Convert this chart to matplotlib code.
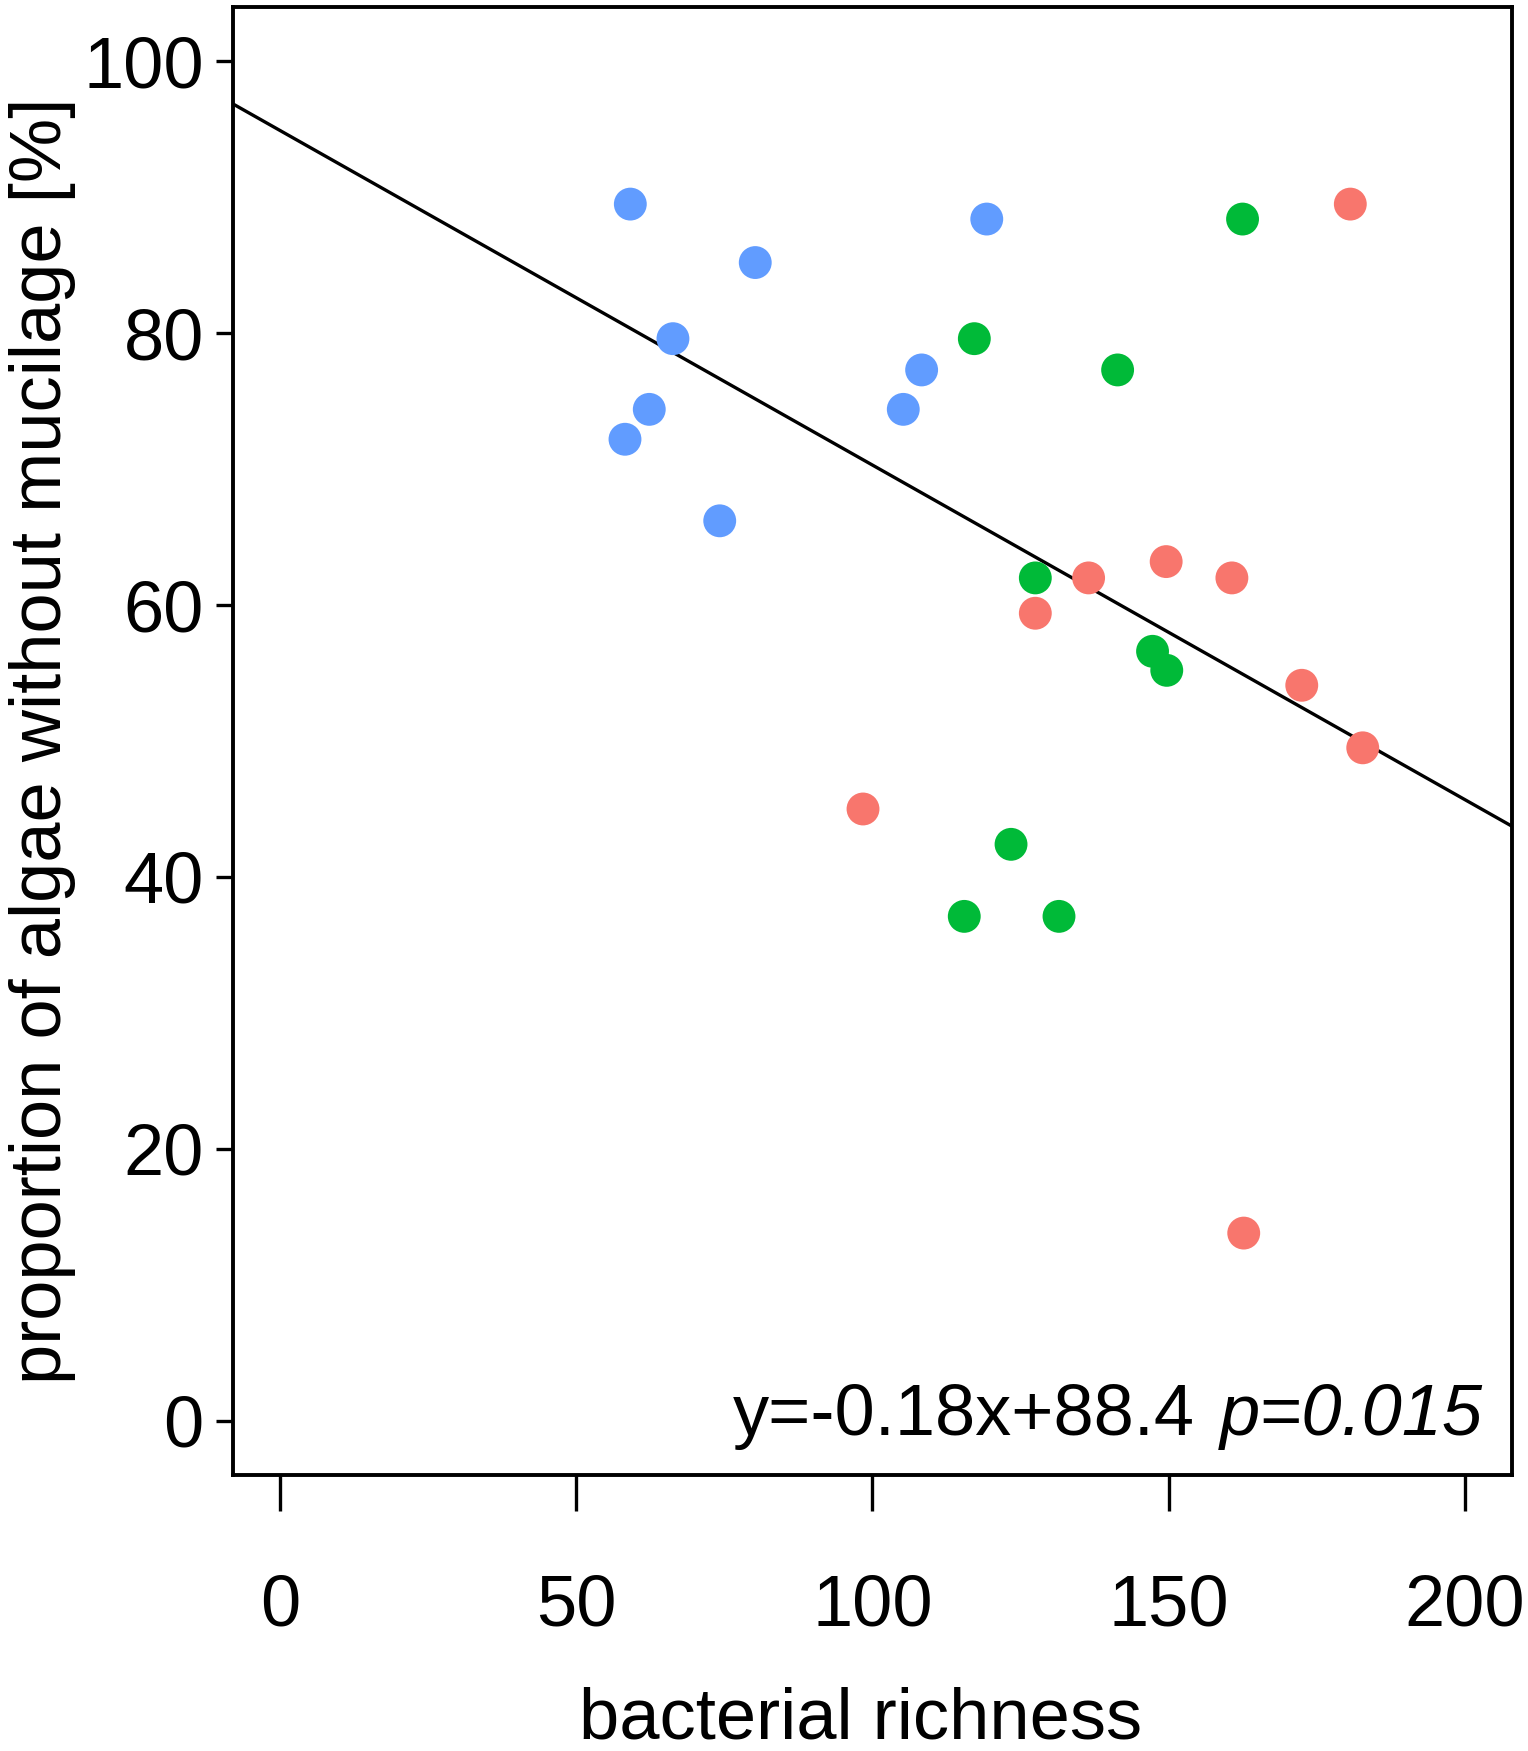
import numpy as np
from matplotlib import pyplot as plt

#======================================================================================================
# Data
blue_x  = [59.1, 80.2, 66.3, 62.3, 58.2, 74.2, 119.3, 108.3, 105.2]
blue_y  = [89.5, 85.2, 79.6, 74.4, 72.2, 66.2, 88.4, 77.3, 74.4]

green_x = [117.2, 162.5, 141.4, 127.5, 147.3, 149.7, 123.4, 115.5, 131.5]
green_y = [79.6, 88.4, 77.3, 62.0, 56.6, 55.2, 42.4, 37.1, 37.1]

red_x   = [180.7, 136.5, 127.5, 149.6, 160.7, 172.5, 182.8, 98.4, 162.7]
red_y   = [89.5, 62.0, 59.4, 63.2, 62.0, 54.1, 49.5, 45.0, 13.8]

# fitted line as drawn
line_slope     = -0.246
line_intercept = 94.9

x_ticks = [0, 50, 100, 150, 200]
y_ticks = [0, 20, 40, 60, 80, 100]

eq_text = "y=-0.18x+88.4"
p_text  = "p=0.015"

#======================================================================================================

def main():
    plt.rcParams['font.family'] = ['Liberation Sans', 'DejaVu Sans']
    fs = 52

    fig = plt.figure(figsize=[15.28, 17.51], dpi=100)
    ax = fig.add_axes([0.1525, 0.1576, 0.837, 0.8384])

    x_line = np.array([-8.32, 207.8])
    ax.plot(x_line, line_intercept + line_slope * x_line, color='black', lw=2.4, zorder=1)

    dot = 560
    ax.scatter(blue_x, blue_y, s=dot, color='#619CFF', edgecolors='none', zorder=2)
    ax.scatter(green_x, green_y, s=dot, color='#00BA38', edgecolors='none', zorder=2)
    ax.scatter(red_x, red_y, s=dot, color='#F8766D', edgecolors='none', zorder=2)

    ax.set_xlim(-8, 208)
    ax.set_ylim(-4, 104)
    ax.set_xticks(x_ticks)
    ax.set_yticks(y_ticks)
    for sp in ax.spines.values():
        sp.set_linewidth(2.8)
    ax.tick_params(axis='x', length=26, width=2.4, pad=45, labelsize=fs)
    ax.tick_params(axis='y', length=12, width=2.4, pad=9, labelsize=fs)

    ax.set_xlabel('bacterial richness', fontsize=fs, va='top')
    ax.xaxis.set_label_coords(0.491, -0.144)
    ax.set_ylabel('proportion of algae without mucilage [%]', fontsize=fs)
    ax.yaxis.set_label_coords(-0.123, 0.5)

    t_p = ax.text(0.977, 0.027, p_text, transform=ax.transAxes, fontsize=fs,
                  style='italic', ha='right', va='baseline')
    ax.annotate(eq_text, xy=(0, 0), xycoords=t_p, xytext=(-18, 0),
                textcoords='offset points', fontsize=fs, ha='right', va='bottom')

    fig.savefig('out.png', dpi=100)
    return

if __name__ == "__main__":
    main()
